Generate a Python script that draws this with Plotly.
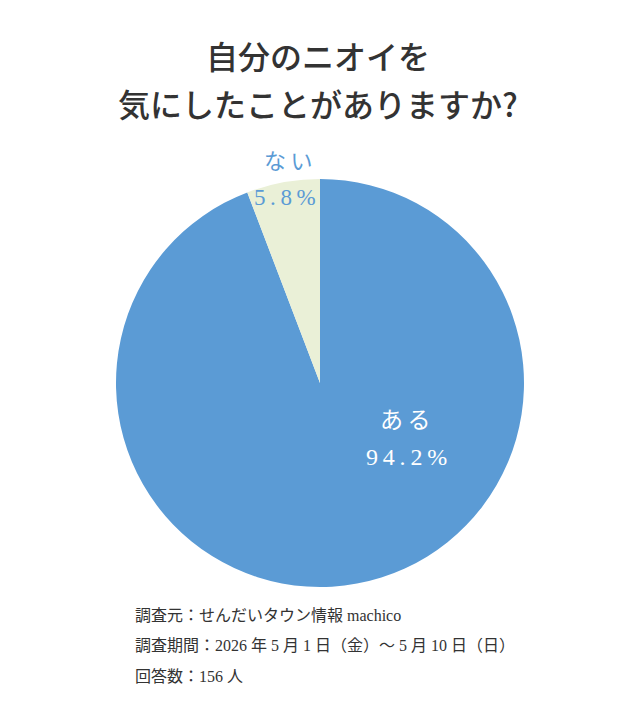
import plotly.graph_objects as go

# data
labels = ["ある", "ない"]
values = [94.2, 5.8]
colors = ["#5b9bd5", "#eaf0d7"]

title_lines = ["自分のニオイを", "気にしたことがありますか?"]
notes = [
    "調査元：せんだいタウン情報 machico",
    "調査期間：2026 年 5 月 1 日（金）～ 5 月 10 日（日）",
    "回答数：156 人",
]

FONT = "Liberation Serif, Noto Sans CJK JP, serif"
TITLE_FONT = "Noto Sans CJK JP, sans-serif"
W, H = 640, 722
OFF = 8  # page body margin


def px(x):
    return (x - OFF) / W


def py(y):
    return 1 - (y - OFF) / H


def spaced(s):
    # loosen the letters a bit like the reference
    return "\u2009".join(s)


fig = go.Figure(go.Pie(
    labels=labels,
    values=values,
    marker=dict(colors=colors, line=dict(width=0)),
    sort=False,
    direction="clockwise",
    rotation=0,
    textinfo="none",
    hoverinfo="label+percent",
    showlegend=False,
    domain=dict(x=[px(116), px(524)], y=[py(587), py(179)]),
))

ann = []
# title
for i, line in enumerate(title_lines):
    ann.append(dict(text=line, x=px(318), y=py(55 + 48 * i),
                    font=dict(family=TITLE_FONT, size=32, color="#333333", weight=500)))

# slice labels
ann.append(dict(text=spaced(labels[0]), x=px(405), y=py(420),
                font=dict(family=FONT, size=23, color="white")))
ann.append(dict(text=spaced(f"{values[0]}%"), x=px(406), y=py(457),
                font=dict(family=FONT, size=24, color="white")))
ann.append(dict(text=spaced(labels[1]), x=px(288), y=py(162),
                font=dict(family=FONT, size=22, color="#5b9bd5")))
ann.append(dict(text=spaced(f"{values[1]}%"), x=px(285), y=py(197),
                font=dict(family=FONT, size=23, color="#5b9bd5")))

for a in ann:
    a.update(xref="paper", yref="paper", showarrow=False, xanchor="center", yanchor="middle")

# footnotes
for i, line in enumerate(notes):
    ann.append(dict(text=line, x=px(133), y=py(615 + 30.5 * i), xref="paper", yref="paper",
                    showarrow=False, font=dict(family=FONT, size=16, color="#333333"),
                    xanchor="left", yanchor="middle"))

fig.update_layout(
    width=W, height=H,
    margin=dict(l=0, r=0, t=0, b=0),
    paper_bgcolor="white",
    plot_bgcolor="white",
    annotations=ann,
)

fig.write_html("out.html")
